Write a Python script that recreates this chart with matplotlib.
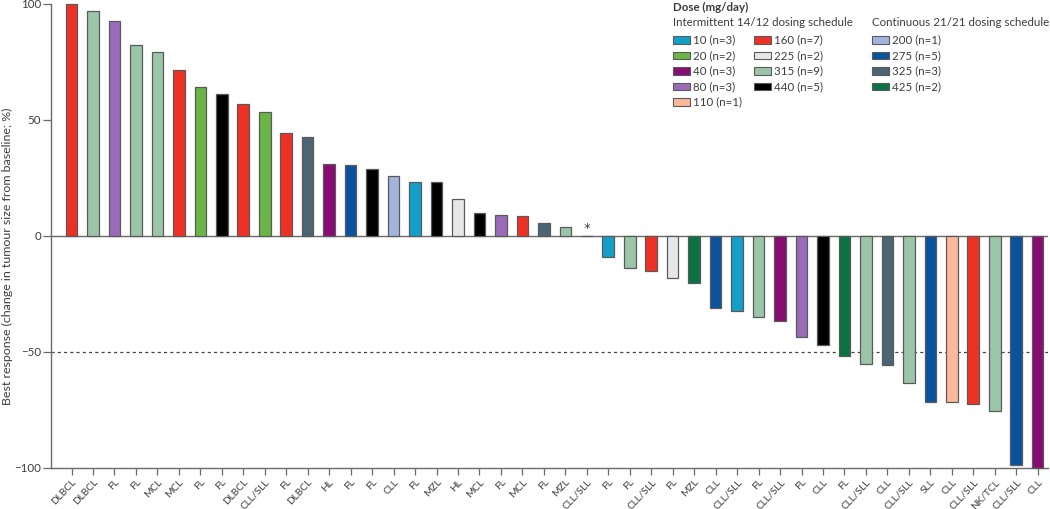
import matplotlib
matplotlib.use("Agg")
import matplotlib.pyplot as plt
from matplotlib.patches import Rectangle

plt.rcParams['font.family'] = ['Lato', 'DejaVu Sans']

# ---- data ----
histology = ["DLBCL", "DLBCL", "FL", "FL", "MCL", "MCL", "FL", "FL", "DLBCL", "CLL/SLL",
             "FL", "DLBCL", "HL", "FL", "FL", "CLL", "FL", "MZL", "HL", "MCL",
             "FL", "MCL", "FL", "MZL", "CLL/SLL", "FL", "FL", "CLL/SLL", "FL", "MZL",
             "CLL", "CLL/SLL", "FL", "CLL/SLL", "FL", "CLL", "FL", "CLL/SLL", "CLL", "CLL/SLL",
             "SLL", "CLL", "CLL/SLL", "NK/TCL", "CLL/SLL", "CLL"]
best_response = [100, 97, 92.7, 82.3, 79.4, 71.5, 64.3, 61, 57, 53.5,
                 44.6, 42.7, 31.2, 30.4, 28.9, 26, 23.4, 23.4, 16, 10.1,
                 8.9, 8.5, 5.8, 4.0, 0, -9.1, -13.9, -15, -17.9, -20.3,
                 -31.2, -32.2, -34.8, -36.8, -43.6, -46.8, -51.7, -55.1, -55.7, -63.5,
                 -71.6, -71.6, -72.4, -75.6, -98.7, -100]
dose = [160, 315, 80, 315, 315, 160, 20, 440, 160, 20,
        160, 325, 40, 275, 440, 200, 10, 440, 225, 440,
        80, 160, 325, 315, 275, 10, 315, 160, 225, 425,
        275, 10, 315, 40, 80, 440, 425, 315, 325, 315,
        275, 110, 160, 315, 275, 40]
no_measure_index = 24  # patient marked with asterisk

intermittent_doses = [10, 20, 40, 80, 110, 160, 225, 315, 440]
intermittent_n = [3, 2, 3, 3, 1, 7, 2, 9, 5]
continuous_doses = [200, 275, 325, 425]
continuous_n = [1, 5, 3, 2]

dose_colors = {10: "#139fca", 20: "#6ab545", 40: "#870d72", 80: "#9a6bb7", 110: "#fbb99c",
               160: "#ee3124", 225: "#e6e7e8", 315: "#9bc5a8", 440: "#000000",
               200: "#a4b3de", 275: "#0a529e", 325: "#4b6573", 425: "#0a7244"}

W, H = 1050, 509
fig = plt.figure(figsize=(W / 100, H / 100), dpi=100)

def fx(px):
    return px / W

def fy(py):
    return 1 - py / H

ax = fig.add_axes([fx(51), fy(468), fx(1048) - fx(51), fy(4) - fy(468)])

FS = 8.3
text_c = "#3c3c3c"
edge_c = "#5a5a5a"
x = list(range(len(histology)))
colors = [dose_colors[d] for d in dose]
ax.bar(x, best_response, width=0.54, color=colors, edgecolor=edge_c, linewidth=0.9,
       clip_on=False, zorder=3)

ax.axhline(0, color="#6a6a6a", lw=1.0, zorder=2)
ax.axhline(-50, color="#444444", lw=0.9, ls=(0, (2.5, 2.5)), zorder=1)
ax.text(no_measure_index, 3.2, "*", ha="center", va="center", fontsize=9.5,
        color=text_c, family="DejaVu Sans")

ax.set_xlim(-0.955, 45.48)
ax.set_ylim(-100, 100)
ax.set_yticks([-100, -50, 0, 50, 100])
ax.set_yticklabels(["\u2212100", "\u221250", "0", "50", "100"])
ax.set_xticks(x)
ax.set_xticklabels(histology, rotation=47, ha="right", va="top", rotation_mode="anchor")

for s in ["top", "right"]:
    ax.spines[s].set_visible(False)
for s in ["left", "bottom"]:
    ax.spines[s].set_color("#6a6a6a")
    ax.spines[s].set_linewidth(1.0)
ax.tick_params(axis="x", length=5, width=0.9, color="#6a6a6a", labelsize=7.3,
               labelcolor=text_c, pad=2)
ax.tick_params(axis="y", length=5.5, width=0.9, color="#6a6a6a", labelsize=FS,
               labelcolor=text_c, pad=1.5)
fig.text(fx(7), fy(256), "Best response (change in tumour size from baseline; %)",
         fontsize=8.9, color=text_c, rotation=90, ha="center", va="center")

# ---- legend ----
fig.text(fx(673), fy(7), "Dose (mg/day)", fontsize=FS, fontweight="bold", color=text_c,
         ha="left", va="center")
fig.text(fx(673), fy(23), "Intermittent 14/12 dosing schedule", fontsize=FS, color=text_c,
         ha="left", va="center")
fig.text(fx(872), fy(23), "Continuous 21/21 dosing schedule", fontsize=FS, color=text_c,
         ha="left", va="center")

row_y = [40, 55.5, 71, 86.5, 102]

def legend_item(px, py, d, n):
    fig.patches.append(Rectangle((fx(px), fy(py + 3.8)), fx(17), 7.6 / H,
                                 transform=fig.transFigure, facecolor=dose_colors[d],
                                 edgecolor=edge_c, linewidth=0.8))
    fig.text(fx(px + 20), fy(py), f"{d} (n={n})", fontsize=FS, color=text_c,
             ha="left", va="center")

for i, (d, n) in enumerate(zip(intermittent_doses, intermittent_n)):
    col = 0 if i < 5 else 1
    row = i if i < 5 else i - 5
    legend_item(673 if col == 0 else 754, row_y[row], d, n)
for i, (d, n) in enumerate(zip(continuous_doses, continuous_n)):
    legend_item(872, row_y[i], d, n)

fig.savefig("out.png", dpi=100)
